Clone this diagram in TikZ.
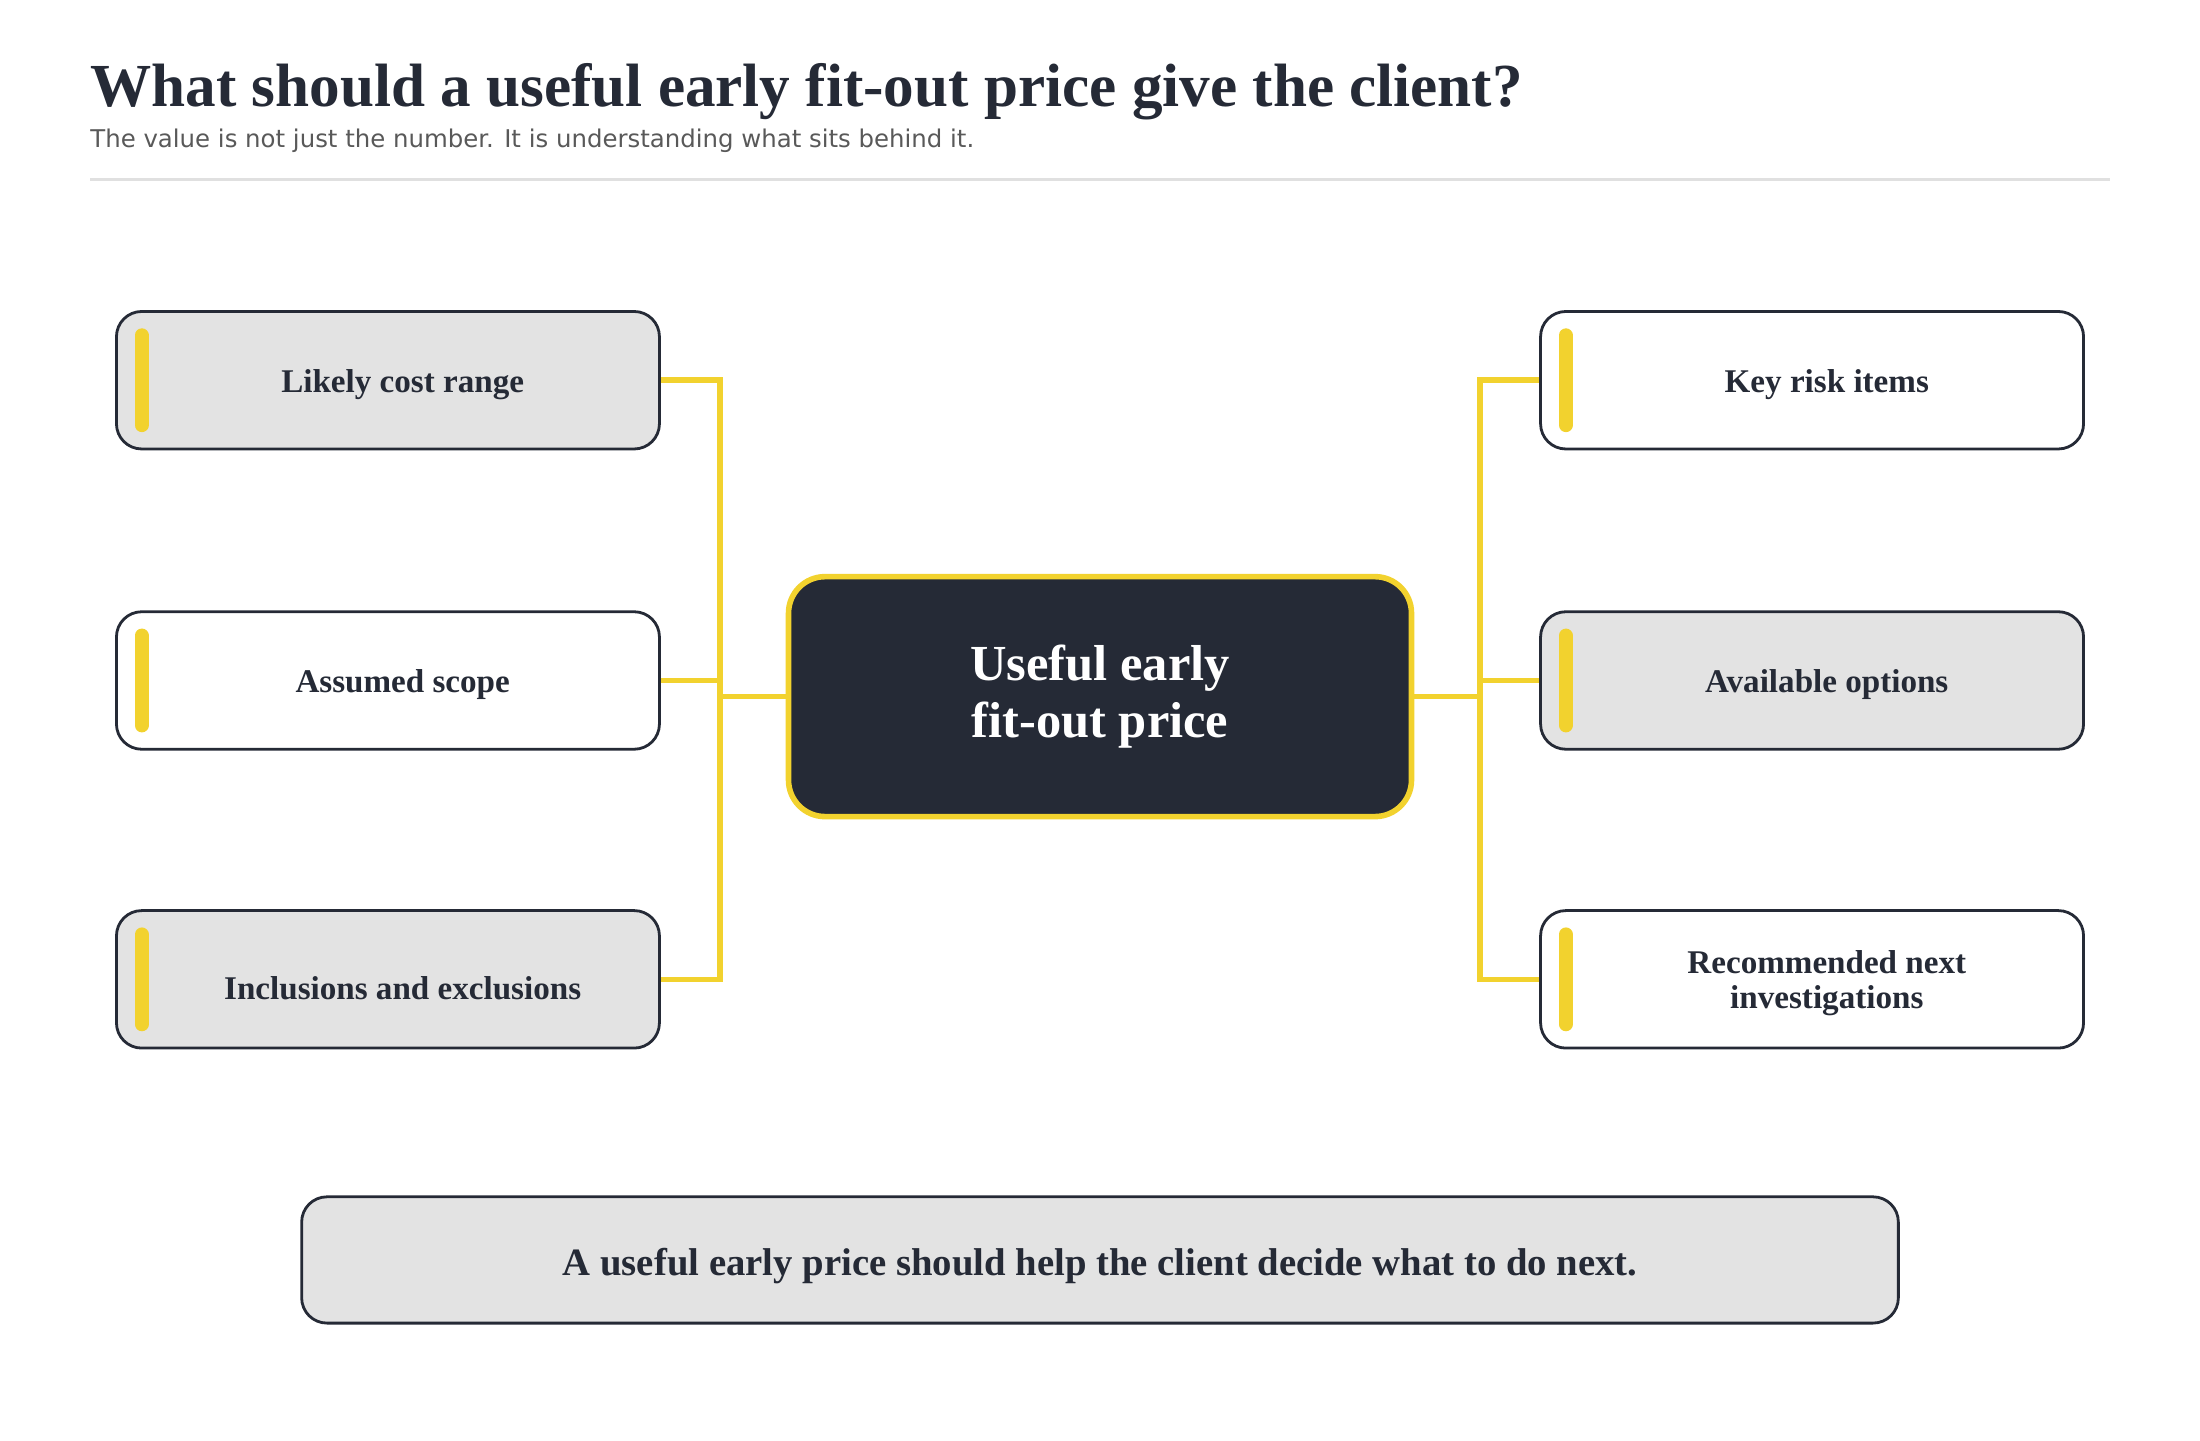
\documentclass[tikz,border=0pt]{standalone}
\usepackage{fontspec}
\setmainfont{Liberation Serif}
\newfontfamily\subf{DejaVu Sans}
\begin{document}
\begin{tikzpicture}[x=0.5pt,y=-0.5pt,
  box/.style={draw=dk, line width=1pt, rounded corners=9pt, minimum width=193.5pt, minimum height=49pt, inner sep=0pt},
  gbox/.style={box, fill=black!11},
  wbox/.style={box, fill=white},
  lab/.style={font=\bfseries\fontsize{11.8}{12}\selectfont, text=dk, align=center},
  bar/.style={line width=5pt, line cap=round, draw=yl},
  conn/.style={line width=2pt, draw=yl}]
\definecolor{dk}{HTML}{252A36}
\definecolor{yl}{HTML}{F2D22E}
\useasboundingbox (0,0) rectangle (1568,1027);
\node[anchor=base west, inner sep=0pt, font=\bfseries\fontsize{21.8}{24}\selectfont, text=dk] (T) at (64,76) {What should a useful early fit-out price give the client?};
\node[anchor=base west, inner sep=0pt, font=\subf\fontsize{8.7}{10}\selectfont, text=black!65] (S) at (64,105) {The value is not just the number. It is understanding what sits behind it.};
\draw[black!12, line width=1pt] (64,128) -- (1504,128);
\node[gbox] (L1) at (276.5,271) {};
\node[wbox] (L2) at (276.5,485) {};
\node[gbox] (L3) at (276.5,698) {};
\node[wbox] (R1) at (1291.5,271) {};
\node[gbox] (R2) at (1291.5,485) {};
\node[wbox] (R3) at (1291.5,698) {};
\foreach \n in {L1,L2,L3,R1,R2,R3}{\draw[bar] ([xshift=9.5pt,yshift=16pt]\n.west) -- ([xshift=9.5pt,yshift=-16pt]\n.west);}
\node[lab] (tL1) at (287,274) {Likely cost range};
\node[lab] (tL2) at (287,488) {Assumed scope};
\node[lab] (tL3) at (287,704) {Inclusions and exclusions};
\node[lab] (tR1) at (1302,274) {Key risk items};
\node[lab] (tR2) at (1302,488) {Available options};
\node[lab, font=\bfseries\fontsize{11.8}{12.5}\selectfont] (tR3) at (1302,701) {Recommended next\\investigations};
\node[draw=yl, line width=2pt, fill=dk, rounded corners=13pt, minimum width=222pt, minimum height=85.5pt, text=white, align=center, font=\bfseries\fontsize{18}{20.5}\selectfont] (C) at (784,496.5) {Useful early\\fit-out price};
\coordinate (lj) at (513,496.5);
\coordinate (rj) at (1055,496.5);
\draw[conn] (L1.east) -| (lj);
\draw[conn] (L3.east) -| (lj);
\draw[conn] (L2.east) -- (L2.east -| lj);
\draw[conn] (lj) -- (C.west);
\draw[conn] (R1.west) -| (rj);
\draw[conn] (R3.west) -| (rj);
\draw[conn] (R2.west) -- (R2.west -| rj);
\draw[conn] (rj) -- (C.east);
\node[gbox, minimum width=569pt, minimum height=45pt] (B) at (784,898) {};
\node[lab, font=\bfseries\fontsize{13.8}{15}\selectfont] (tB) at (784,902) {A useful early price should help the client decide what to do next.};
\end{tikzpicture}
\end{document}
